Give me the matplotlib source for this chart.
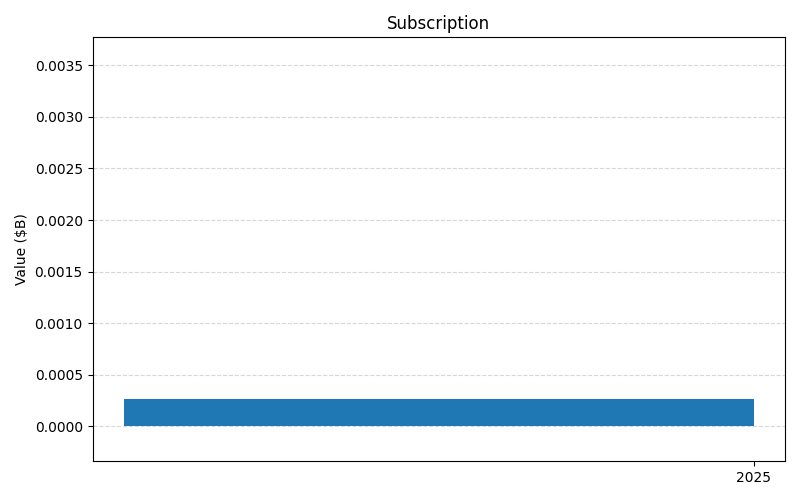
import matplotlib
matplotlib.use("Agg")
import matplotlib.pyplot as plt

years = [2025]
values = [0.000262]

fig, ax = plt.subplots(figsize=(8, 5), dpi=100)

# bar ends at the year tick
ax.bar(years, values, width=-1, align='edge', color='#1f77b4')
ax.set_xticks(years)
ax.set_xticklabels([str(y) for y in years])
ax.set_ylim(-0.000337, 0.00377)

ax.set_title('Subscription')
ax.set_ylabel('Value ($B)')
ax.grid(axis='y', linestyle='--', alpha=0.5)
ax.set_axisbelow(True)

plt.tight_layout()
plt.savefig('out.png')
